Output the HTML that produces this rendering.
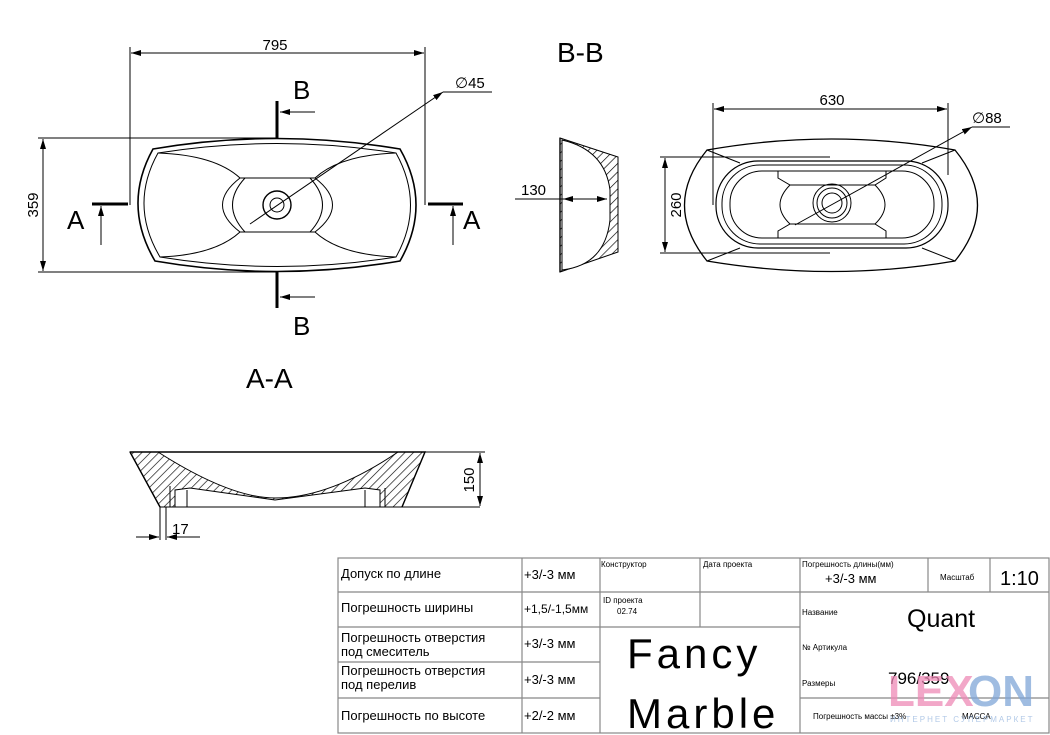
<!DOCTYPE html>
<html><head><meta charset="utf-8"><style>
html,body{margin:0;padding:0;background:#fff;}
svg{display:block;}
text{font-family:"Liberation Sans","DejaVu Sans",sans-serif;fill:#000;}
.t{font-size:13px;}
.s{font-size:8px;}
</style></head><body>
<svg width="1050" height="735" viewBox="0 0 1050 735" xmlns="http://www.w3.org/2000/svg">
<defs>
<marker id="ar" viewBox="0 0 10 6" refX="10" refY="3" markerWidth="10" markerHeight="6" orient="auto-start-reverse" markerUnits="userSpaceOnUse"><path d="M0,0L10,3L0,6z" fill="#000"/></marker>
<pattern id="h" width="6" height="6" patternUnits="userSpaceOnUse" patternTransform="rotate(45)"><line x1="0" y1="0" x2="0" y2="6" stroke="#000" stroke-width="1.3"/></pattern>
</defs>
<g fill="none" stroke="#000" stroke-width="1">
<line x1="130" y1="47" x2="130" y2="205"/><line x1="425" y1="47" x2="425" y2="205"/>
<line x1="131" y1="53" x2="424" y2="53" marker-start="url(#ar)" marker-end="url(#ar)"/>
<line x1="38" y1="138" x2="277" y2="138"/><line x1="38" y1="272" x2="277" y2="272"/>
<line x1="43" y1="139" x2="43" y2="271" marker-start="url(#ar)" marker-end="url(#ar)"/>
<path d="M153,149 Q277,128 400,149 Q432,205 400,261 Q277,282 155,261 Q122,205 153,149Z" stroke-width="1.6"/>
<path d="M158,153 Q277,134 396,153 Q425,205 396,257 Q277,276 160,257 Q129,205 158,153Z"/>
<path d="M158,153 Q215,155 240,178 L315,178 Q340,155 396,153"/>
<path d="M160,257 Q215,255 240,232 L315,232 Q340,255 396,257"/>
<path d="M240,178 Q205,205 240,232"/><path d="M315,178 Q350,205 315,232"/>
<path d="M245,178 Q220,205 245,232 M310,178 Q335,205 310,232"/>
<circle cx="277" cy="205" r="14" stroke-width="1.4"/><circle cx="277" cy="205" r="7"/>
<line x1="250" y1="224" x2="443" y2="92" marker-end="url(#ar)"/><line x1="443" y1="92" x2="492" y2="92"/>
<line x1="277" y1="101" x2="277" y2="138" stroke-width="3"/>
<line x1="315" y1="112" x2="280" y2="112" marker-end="url(#ar)"/>
<line x1="277" y1="272" x2="277" y2="308" stroke-width="3"/>
<line x1="315" y1="297" x2="280" y2="297" marker-end="url(#ar)"/>
<line x1="92" y1="204" x2="128" y2="204" stroke-width="3"/>
<line x1="101" y1="245" x2="101" y2="206" marker-end="url(#ar)"/>
<line x1="428" y1="204" x2="463" y2="204" stroke-width="3"/>
<line x1="453" y1="245" x2="453" y2="206" marker-end="url(#ar)"/>
<path d="M560,138 L618,157 L618,252 L560,272 Z" fill="url(#h)"/>
<path d="M562,140 L562,270 Q605,265 610,220 L610,190 Q605,150 562,140Z" fill="#fff"/>
<path d="M560,138 L560,272" stroke-width="1.4"/>
<line x1="515" y1="199" x2="607" y2="199"/>
<line x1="563" y1="199" x2="607" y2="199" marker-start="url(#ar)" marker-end="url(#ar)"/>
<line x1="713" y1="103" x2="713" y2="205"/><line x1="948" y1="103" x2="948" y2="175"/>
<line x1="714" y1="109" x2="947" y2="109" marker-start="url(#ar)" marker-end="url(#ar)"/>
<line x1="660" y1="157" x2="830" y2="157"/><line x1="660" y1="253" x2="830" y2="253"/>
<line x1="665" y1="158" x2="665" y2="252" marker-start="url(#ar)" marker-end="url(#ar)"/>
<path d="M707,150 Q832,128 955,150 Q1000,205 955,261 Q832,282 707,261 Q662,205 707,150Z" stroke-width="1.3"/>
<path d="M707,150 L740,163 M955,150 L922,163 M707,261 L740,248 M955,261 L922,248"/>
<rect x="716" y="161" width="232" height="87" rx="42" stroke-width="1.2"/>
<rect x="722" y="165" width="220" height="79" rx="38"/>
<rect x="730" y="171" width="204" height="67" rx="32"/>
<path d="M778,171 L778,178 L790,185 L875,185 L886,178 L886,171 M778,238 L778,231 L790,224 L875,224 L886,231 L886,238"/>
<path d="M790,185 Q770,205 790,224 M875,185 Q895,205 875,224"/>
<circle cx="832" cy="203" r="19"/><circle cx="832" cy="203" r="15"/><circle cx="832" cy="203" r="10"/>
<line x1="795" y1="225" x2="972" y2="127" marker-end="url(#ar)"/><line x1="972" y1="127" x2="1010" y2="127"/>
<path d="M130,452 L425,452 L402,507 L380,507 L380,490 L365,488 L275,500 L190,488 L175,490 L175,507 L160,507 Z" fill="url(#h)"/>
<path d="M158,452 Q230,498 275,498 Q330,498 398,452 Z" fill="#fff"/>
<path d="M130,452 L425,452 L402,507 M130,452 L160,507" stroke-width="1.4"/>
<line x1="160" y1="507" x2="480" y2="507"/>
<line x1="170" y1="486" x2="170" y2="507"/><line x1="187" y1="490" x2="187" y2="507"/>
<line x1="365" y1="490" x2="365" y2="507"/><line x1="385" y1="488" x2="385" y2="507"/>
<line x1="425" y1="452" x2="485" y2="452"/>
<line x1="480" y1="453" x2="480" y2="506" marker-start="url(#ar)" marker-end="url(#ar)"/>
<line x1="160" y1="507" x2="160" y2="540"/><line x1="166" y1="507" x2="166" y2="540"/>
<line x1="136" y1="537" x2="159" y2="537" marker-end="url(#ar)"/>
<line x1="200" y1="537" x2="167" y2="537" marker-end="url(#ar)"/>
<g stroke="#888" stroke-width="1.2">
<rect x="338" y="558" width="711" height="175"/>
<line x1="522" y1="558" x2="522" y2="733"/><line x1="600" y1="558" x2="600" y2="733"/>
<line x1="700" y1="558" x2="700" y2="627"/><line x1="800" y1="558" x2="800" y2="733"/>
<line x1="928" y1="558" x2="928" y2="592"/><line x1="990" y1="558" x2="990" y2="592"/>
<line x1="338" y1="592" x2="1049" y2="592"/><line x1="338" y1="627" x2="800" y2="627"/>
<line x1="338" y1="662" x2="600" y2="662"/><line x1="338" y1="698" x2="600" y2="698"/>
<line x1="800" y1="698" x2="1049" y2="698"/>
</g>
</g>
<g font-size="19">
<text x="275" y="50" text-anchor="middle" font-size="15">795</text>
<text x="40" y="205" text-anchor="middle" font-size="15" transform="rotate(-90 40 205)" dy="-2">359</text>
<text x="455" y="88" font-size="15">∅45</text>
<text x="293" y="99" font-size="26">B</text>
<text x="293" y="335" font-size="26">B</text>
<text x="67" y="229" font-size="26">A</text>
<text x="463" y="229" font-size="26">A</text>
<text x="557" y="62" font-size="28">B-B</text>
<text x="246" y="388" font-size="28">A-A</text>
<text x="521" y="195" font-size="15">130</text>
<text x="832" y="105" text-anchor="middle" font-size="15">630</text>
<text x="681" y="205" text-anchor="middle" font-size="15" transform="rotate(-90 681 205)">260</text>
<text x="972" y="123" font-size="15">∅88</text>
<text x="476" y="480" text-anchor="middle" font-size="15" transform="rotate(-90 476 480)" dy="-2">150</text>
<text x="172" y="534" font-size="15">17</text>
</g>
<g class="t">
<text x="341" y="578">Допуск по длине</text>
<text x="341" y="612">Погрешность ширины</text>
<text x="341" y="642">Погрешность отверстия</text>
<text x="341" y="656">под смеситель</text>
<text x="341" y="675">Погрешность отверстия</text>
<text x="341" y="689">под перелив</text>
<text x="341" y="720">Погрешность по высоте</text>
<text x="524" y="579">+3/-3 мм</text>
<text x="524" y="613" font-size="12">+1,5/-1,5мм</text>
<text x="524" y="648">+3/-3 мм</text>
<text x="524" y="684">+3/-3 мм</text>
<text x="524" y="720">+2/-2 мм</text>
<text x="825" y="583">+3/-3 мм</text>
</g>
<g class="s">
<text x="601" y="567">Конструктор</text>
<text x="703" y="567">Дата проекта</text>
<text x="802" y="567">Погрешность длины(мм)</text>
<text x="940" y="580">Масштаб</text>
<text x="603" y="603">ID проекта</text>
<text x="617" y="614">02.74</text>
<text x="802" y="615">Название</text>
<text x="802" y="650">№ Артикула</text>
<text x="802" y="686">Размеры</text>
<text x="813" y="719">Погрешность массы  ±3%</text>
<text x="962" y="719">МАССА</text>
</g>
<text x="1000" y="585" font-size="20">1:10</text>
<text x="907" y="627" font-size="25">Quant</text>
<text x="888" y="684" font-size="17">796/359</text>
<text x="627" y="668" font-size="42" letter-spacing="4">Fancy</text>
<text x="627" y="728" font-size="42" letter-spacing="4">Marble</text>
<text x="888" y="706" font-size="44" font-weight="bold" opacity="0.75" style="fill:#ee8ab6">LEX</text>
<text x="968" y="706" font-size="44" font-weight="bold" opacity="0.75" style="fill:#7fa6d8">ON</text>
<text x="890" y="722" font-size="8" opacity="0.6" style="fill:#7fa6d8" letter-spacing="2">ИНТЕРНЕТ СУПЕРМАРКЕТ</text>
</svg>
</body></html>
